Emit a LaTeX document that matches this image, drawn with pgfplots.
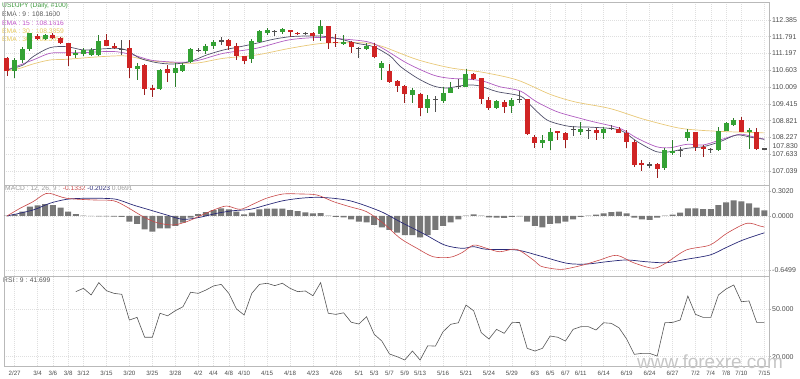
\documentclass[border=0pt]{standalone}
\usepackage{pgfplots}
\pgfplotsset{compat=1.18}
\usepackage{pgfplotstable}
\usepackage{fontspec}
\setmainfont{Liberation Sans}

\definecolor{cgreen}{HTML}{34A234}
\definecolor{gwick}{HTML}{2C7E2C}
\definecolor{cred}{HTML}{D02424}
\definecolor{rwick}{HTML}{9A1E1E}
\definecolor{dojic}{HTML}{505050}
\definecolor{ema9}{HTML}{50506A}
\definecolor{ema15}{HTML}{B05CC0}
\definecolor{ema30}{HTML}{E8C878}
\definecolor{macdred}{HTML}{C84848}
\definecolor{macdblue}{HTML}{2A2A78}
\definecolor{histgray}{HTML}{777777}
\definecolor{txtgreen}{HTML}{3F9A3F}
\definecolor{txtgray}{HTML}{555555}
\definecolor{txtpurple}{HTML}{C050C8}
\definecolor{txtyellow}{HTML}{E6C85A}

\pgfplotstableread{
k O H L C
0 111.024 111.081 110.399 110.575
1 110.586 111.035 110.338 110.964
2 110.964 111.435 110.848 111.343
3 111.343 111.930 111.293 111.908
4 111.813 111.873 111.672 111.707
5 111.707 111.884 111.682 111.848
6 111.848 111.909 111.707 111.732
7 111.732 111.767 111.530 111.555
8 111.555 111.576 110.752 111.106
9 111.141 111.318 111.035 111.222
10 111.166 111.378 111.106 111.318
11 111.141 111.389 111.106 111.318
12 111.141 111.848 111.106 111.647
13 111.672 111.873 111.449 111.470
14 111.459 111.555 111.353 111.399
15 111.353 111.672 111.141 111.343
16 111.378 111.672 110.317 110.692
17 110.646 110.858 110.257 110.763
18 110.787 110.823 109.727 109.928
19 109.964 110.080 109.666 109.928
20 109.928 110.646 109.903 110.611
21 110.635 110.787 110.197 110.494
22 110.494 110.848 109.999 110.671
23 110.586 110.858 110.558 110.787
24 110.904 111.389 110.876 111.343
25 111.318 111.399 111.237 111.307
26 111.293 111.520 111.177 111.459
27 111.459 111.672 111.343 111.611
28 111.636 111.788 111.495 111.640
29 111.672 111.707 111.318 111.470
30 111.470 111.555 110.964 111.116
31 111.106 111.106 110.812 110.940
32 110.989 111.696 110.869 111.647
33 111.611 112.025 111.601 111.990
34 111.908 112.085 111.848 112.036
35 111.990 112.025 111.813 111.985
36 111.944 112.096 111.873 112.060
37 112.025 112.025 111.767 111.944
38 111.930 111.944 111.859 111.884
39 111.908 111.965 111.848 111.905
40 111.908 111.965 111.636 111.824
41 111.873 112.379 111.636 112.167
42 112.177 112.177 111.343 111.576
43 111.611 111.873 111.413 111.555
44 111.520 111.848 111.495 111.611
45 111.611 111.647 111.201 111.413
46 111.378 111.435 111.024 111.375
47 111.343 111.555 111.318 111.470
48 111.459 111.555 111.024 111.060
49 110.671 110.940 110.257 110.869
50 110.586 110.823 110.140 110.197
51 110.222 110.257 109.843 110.055
52 110.045 110.080 109.454 109.751
53 109.727 109.985 109.454 109.903
54 109.751 109.787 108.984 109.277
55 109.277 109.727 109.101 109.575
56 109.575 109.691 109.136 109.570
57 109.514 110.020 109.433 109.808
58 109.808 110.197 109.787 109.985
59 110.045 110.282 109.928 110.040
60 110.020 110.646 110.020 110.469
61 110.459 110.494 110.257 110.282
62 110.317 110.317 109.408 109.575
63 109.550 109.645 109.196 109.256
64 109.256 109.550 109.232 109.514
65 109.490 109.550 109.101 109.313
66 109.348 109.610 109.101 109.550
67 109.575 109.879 109.433 109.570
68 109.575 109.575 108.313 108.337
69 108.252 108.312 107.842 108.040
70 108.019 108.312 107.842 108.136
71 108.111 108.549 107.782 108.429
72 108.454 108.464 108.136 108.372
73 108.394 108.429 107.842 108.136
74 108.514 108.631 108.277 108.510
75 108.418 108.783 108.312 108.514
76 108.489 108.549 108.170 108.485
77 108.489 108.549 108.136 108.372
78 108.372 108.606 108.170 108.514
79 108.549 108.666 108.489 108.540
80 108.514 108.595 108.383 108.394
81 108.394 108.489 107.853 108.075
82 108.075 108.136 107.191 107.251
83 107.311 107.428 107.039 107.297
84 107.251 107.357 107.134 107.255
85 107.276 107.322 106.781 107.110
86 107.134 107.842 107.074 107.781
87 107.665 108.136 107.605 107.746
88 107.781 107.898 107.524 107.771
89 108.195 108.524 108.099 108.429
90 108.429 108.429 107.746 107.877
91 107.877 107.959 107.534 107.806
92 107.806 107.842 107.675 107.817
93 107.781 108.595 107.746 108.464
94 108.454 108.772 108.454 108.726
95 108.666 108.914 108.648 108.843
96 108.843 108.949 108.418 108.429
97 108.454 108.549 107.817 108.479
98 108.429 108.549 107.782 107.806
99 107.828 107.842 107.806 107.830
}\candles

\pgfplotstableread{
k h
0 0.004
1 0.020
2 0.052
3 0.112
4 0.128
5 0.144
6 0.132
7 0.100
8 0.052
9 0.024
10 0.004
11 -0.003
12 -0.005
13 -0.005
14 -0.008
15 -0.010
16 -0.068
17 -0.096
18 -0.160
19 -0.188
20 -0.148
21 -0.148
22 -0.120
23 -0.080
24 -0.020
25 0.024
26 0.048
27 0.072
28 0.092
29 0.080
30 0.052
31 0.020
32 0.040
33 0.080
34 0.088
35 0.088
36 0.088
37 0.072
38 0.060
39 0.044
40 0.032
41 0.036
42 0.004
43 -0.012
44 -0.016
45 -0.040
46 -0.068
47 -0.076
48 -0.108
49 -0.136
50 -0.168
51 -0.200
52 -0.229
53 -0.229
54 -0.257
55 -0.229
56 -0.168
57 -0.120
58 -0.076
59 -0.040
60 0.004
61 0.020
62 0.004
63 -0.016
64 -0.020
65 -0.024
66 -0.012
67 -0.004
68 -0.068
69 -0.120
70 -0.136
71 -0.096
72 -0.088
73 -0.068
74 -0.040
75 -0.012
76 0.004
77 0.016
78 0.032
79 0.048
80 0.052
81 0.032
82 -0.020
83 -0.040
84 -0.048
85 -0.020
86 0.004
87 0.016
88 0.040
89 0.092
90 0.092
91 0.084
92 0.084
93 0.132
94 0.164
95 0.188
96 0.176
97 0.152
98 0.100
99 0.069
}\histdata

\pgfplotstableread{
k r
9 61.2
10 63.3
11 59.1
12 66.9
13 61.8
14 60.1
15 59.5
16 43.2
17 44.9
18 32.3
19 32.3
20 47.5
21 45.9
22 49.1
23 51.6
24 60.8
25 60.1
26 62.2
27 64.8
28 65.8
29 60.1
30 50.2
31 46.4
32 60.1
33 65.8
34 66.5
35 65.0
36 66.5
37 63.3
38 61.2
39 61.6
40 58.6
41 66.9
42 47.5
43 46.8
44 47.8
45 41.8
46 40.7
47 45.3
48 34.2
49 29.9
50 21.7
51 20.0
52 17.9
53 23.6
54 17.9
55 26.9
56 26.7
57 35.8
58 40.5
59 41.5
60 52.7
61 49.1
62 35.2
63 31.2
64 37.3
65 34.8
66 41.5
67 41.7
68 25.3
69 23.6
70 25.3
71 33.1
72 32.3
73 29.9
74 37.3
75 39.0
76 39.0
77 36.9
78 41.5
79 41.1
80 38.3
81 31.2
82 21.5
83 22.1
84 22.1
85 20.4
86 41.5
87 41.7
88 43.2
89 58.4
90 46.8
91 44.9
92 44.9
93 59.1
94 62.9
95 65.4
96 54.8
97 55.3
98 41.7
99 41.7
}\rsidata

\pgfplotsset{
  panel/.style={
    scale only axis, width=765pt, xmin=-0.39, xmax=99.61, anchor=south west,
    axis line style={draw=gray!55, line width=0.5pt},
    xtick={1,4,6,8,10,13,16,19,22,25,27,29,31,34,37,40,43,46,48,50,52,54,57,60,63,66,69,71,73,75,78,81,84,87,90,92,94,96,99},
    xticklabels={},
    xmajorgrids, ymajorgrids,
    major grid style={draw=gray!25, line width=0.4pt, dash pattern=on 1pt off 1pt},
    ytick pos=right, yticklabel pos=right,
    tick align=outside, major tick length=2pt,
    tick style={draw=gray!60, line width=0.4pt},
    xtick style={draw=none},
    ticklabel style={font=\fontsize{7}{8}\selectfont, text=black!70},
    yticklabel style={inner sep=1pt},
    /pgf/number format/assume math mode=true,
    clip=true,
  },
  candle/.style={mark=none, draw=none, forget plot,
    error bars/y dir=both, error bars/y explicit, error bars/error mark=none},
}

\begin{document}
\begin{tikzpicture}
\useasboundingbox (0,0) rectangle (800pt,378pt);
% legends (drawn first, under the candles)
\begin{scope}[every node/.style={anchor=west, inner sep=0pt, font=\fontsize{6.7}{8}\selectfont}]
\node[text=txtgreen] at (2pt,372pt) {USDJPY (Daily, \#100)};
\node[text=txtgray] at (2pt,363.5pt) {EMA : 9 : 108.1600};
\node[text=txtpurple] at (2pt,355pt) {EMA : 15 : 108.1616};
\node[text=txtyellow] at (2pt,346.5pt) {EMA : 30 : 108.3859};
\node[text=txtyellow] at (2pt,339pt) {EMA : 30 : 108.3859};
\node[text=gray!80] at (5pt,189pt) {MACD : 12, 26, 9 : \textcolor{macdred}{-0.1332} \textcolor{macdblue}{-0.2023} 0.0691};
\node[text=txtgray] at (3pt,97.5pt) {RSI : 9 : 41.699};
\end{scope}

% ---------------- main price panel ----------------
\begin{axis}[panel, at={(4pt,193pt)}, height=183pt,
  ymin=106.544, ymax=113.015,
  ytick={107.039,107.633,108.227,108.821,109.415,110.009,110.603,111.197,111.791,112.385},
  yticklabels={107.039,107.633,108.227,108.821,109.415,110.009,110.603,111.197,111.791,112.385},
]
% EMAs
\addplot[ema30, line width=0.7pt, smooth] coordinates {
(0,110.575) (1.7,110.671) (3.4,110.823) (5.6,110.964) (7.8,110.989) (12.2,111.081) (15.6,111.106) (18.7,110.940) (23.1,110.848) (25.2,110.869) (28.3,111.024) (32.6,111.141) (37,111.378) (41.3,111.555) (45.7,111.576) (47.1,111.555) (49.1,111.441) (53.6,110.980) (57.9,110.690) (62.2,110.529) (66.7,110.257) (71,109.750) (74.3,109.480) (78.8,109.250) (83.1,108.880) (87.6,108.570) (90.6,108.480) (94.1,108.430) (99,108.386)};
\addplot[ema15, line width=0.7pt, smooth] coordinates {
(0,110.611) (3.4,110.964) (5.6,111.201) (7.8,111.222) (10,111.222) (12.2,111.258) (14.3,111.258) (16.5,111.141) (18.7,110.964) (20.9,110.904) (23.1,110.883) (25.2,110.964) (28.3,111.201) (32.6,111.378) (36.8,111.672) (40.6,111.760) (43.1,111.725) (47.1,111.611) (49.1,111.378) (52.3,110.850) (55.7,110.434) (57.9,110.317) (60.1,110.290) (62.2,110.220) (64.4,110.020) (67.1,109.868) (69.2,109.490) (71.9,109.136) (74.9,108.903) (76.6,108.783) (80.1,108.549) (82.4,108.195) (84.9,107.898) (86.7,107.863) (88.9,107.983) (91,107.959) (93.2,108.136) (95.8,108.337) (97.5,108.252) (99,108.162)};
\addplot[ema9, line width=0.7pt, smooth] coordinates {
(0,110.611) (2.1,110.787) (3.4,111.081) (5.6,111.399) (7.8,111.435) (10,111.318) (12.2,111.353) (14.3,111.378) (15.6,111.318) (17.4,111.024) (19.6,110.869) (21.7,110.823) (23.9,110.904) (26.1,111.141) (28.3,111.318) (30.5,111.435) (32.6,111.555) (34.8,111.696) (37,111.788) (39.2,111.813) (41.3,111.806) (43.5,111.707) (45.7,111.555) (47.9,111.435) (50.1,111.100) (51.4,110.740) (53.6,110.330) (55.7,110.050) (57.5,109.975) (60.1,110.080) (61.8,110.045) (64.1,109.843) (67.1,109.690) (68.4,109.373) (70.6,108.843) (73.2,108.631) (74.9,108.596) (76.6,108.585) (80.1,108.489) (82.4,108.075) (84.9,107.722) (86.7,107.722) (88.9,107.842) (91,107.898) (93.2,108.075) (95.4,108.312) (97.5,108.217) (99,108.160)};
% green candles: wick + body
\addplot[candle, restrict expr to domain={\thisrow{C}-\thisrow{O}}{0.012:100},
  error bars/error bar style={line width=0.9pt, line cap=butt, draw=gwick, solid}]
  table[x=k, y expr={(\thisrow{H}+\thisrow{L})/2}, y error expr={(\thisrow{H}-\thisrow{L})/2}] {\candles};
\addplot[candle, restrict expr to domain={\thisrow{C}-\thisrow{O}}{0.012:100},
  error bars/error bar style={line width=5pt, line cap=butt, draw=cgreen, solid}]
  table[x=k, y expr={(\thisrow{O}+\thisrow{C})/2}, y error expr={(\thisrow{C}-\thisrow{O})/2}] {\candles};
% red candles
\addplot[candle, restrict expr to domain={\thisrow{C}-\thisrow{O}}{-100:-0.012},
  error bars/error bar style={line width=0.9pt, line cap=butt, draw=rwick, solid}]
  table[x=k, y expr={(\thisrow{H}+\thisrow{L})/2}, y error expr={(\thisrow{H}-\thisrow{L})/2}] {\candles};
\addplot[candle, restrict expr to domain={\thisrow{C}-\thisrow{O}}{-100:-0.012},
  error bars/error bar style={line width=5pt, line cap=butt, draw=cred, solid}]
  table[x=k, y expr={(\thisrow{O}+\thisrow{C})/2}, y error expr={(\thisrow{O}-\thisrow{C})/2}] {\candles};
% doji candles
\addplot[candle, restrict expr to domain={\thisrow{C}-\thisrow{O}}{-0.0119:0.0119},
  error bars/error bar style={line width=0.9pt, line cap=butt, draw=dojic, solid}]
  table[x=k, y expr={(\thisrow{H}+\thisrow{L})/2}, y error expr={(\thisrow{H}-\thisrow{L})/2}] {\candles};
\addplot[candle, restrict expr to domain={\thisrow{C}-\thisrow{O}}{-0.0119:0.0119},
  error bars/error bar style={line width=5pt, line cap=butt, draw=dojic, solid}]
  table[x=k, y expr={(\thisrow{O}+\thisrow{C})/2}, y error expr={0.018}] {\candles};
\end{axis}

% ---------------- MACD panel ----------------
\begin{axis}[panel, at={(4pt,102pt)}, height=91pt,
  ymin=-0.722, ymax=0.373,
  ytick={-0.6499,0,0.302}, yticklabels={-0.6499,0.0000,0.3020},
]
\addplot[ybar, bar width=6pt, fill=histgray, draw=none] table[x=k, y=h] {\histdata};
\addplot[macdblue, line width=0.7pt, smooth] coordinates {
(0,0) (3.4,0.072) (5.6,0.153) (7.8,0.201) (10,0.213) (12.2,0.213) (14.3,0.201) (16.5,0.132) (18.7,0.072) (20.9,0.012) (23,-0.04) (25.2,-0.016) (27.4,0.032) (29.6,0.064) (31.8,0.08) (33.9,0.132) (36.1,0.184) (38.3,0.213) (40.5,0.225) (42.7,0.213) (44.8,0.184) (47,0.12) (49.2,0.04) (51.4,-0.07) (54.6,-0.22) (57.2,-0.349) (59.5,-0.389) (61,-0.369) (62.7,-0.401) (66.6,-0.409) (69.7,-0.481) (73.2,-0.569) (75.8,-0.578) (78.4,-0.55) (81,-0.529) (83.5,-0.55) (86.2,-0.562) (88.8,-0.521) (91.9,-0.469) (94,-0.38) (96.2,-0.289) (99,-0.202)};
\addplot[macdred, line width=0.6pt, smooth] coordinates {
(0,0) (1.7,0.092) (3.4,0.172) (4.7,0.253) (5.6,0.273) (7.8,0.213) (11.3,0.193) (13.9,0.184) (15.6,0.112) (17.8,-0.008) (19.6,-0.08) (21.7,-0.108) (23.5,-0.068) (25.2,0) (27,0.072) (28.7,0.12) (30.5,0.08) (32.2,0.144) (33.9,0.213) (36.1,0.265) (38.3,0.265) (40.5,0.253) (42.7,0.172) (44.8,0.112) (47,0.052) (49.2,-0.088) (51.4,-0.268) (53.6,-0.389) (55.7,-0.49) (57.9,-0.497) (59.5,-0.44) (61,-0.35) (62.7,-0.389) (64.4,-0.43) (66.6,-0.401) (68.8,-0.529) (69.7,-0.60) (71,-0.629) (72.7,-0.641) (75.3,-0.59) (77.5,-0.529) (79.7,-0.473) (81.9,-0.562) (84.5,-0.629) (86.2,-0.562) (88.8,-0.409) (91.9,-0.349) (94.1,-0.208) (96.7,-0.088) (98.4,-0.12) (99,-0.133)};
\end{axis}

% ---------------- RSI panel ----------------
\begin{axis}[panel, at={(4pt,12pt)}, height=90pt,
  ymin=14.1, ymax=71.1,
  ytick={20,50}, yticklabels={20.000,50.000},
  xticklabels={2/27,3/4,3/6,3/8,3/12,3/15,3/20,3/25,3/28,4/2,4/4,4/8,4/10,4/15,4/18,4/23,4/26,5/1,5/3,5/7,5/9,5/13,5/16,5/21,5/24,5/29,6/3,6/5,6/7,6/11,6/14,6/19,6/24,6/27,7/2,7/4,7/8,7/10,7/15},
  xticklabel style={font=\fontsize{6.2}{7}\selectfont, inner sep=1pt, yshift=-1.5pt},
]
\addplot[txtgray, line width=0.6pt] table[x=k, y=r] {\rsidata};
\end{axis}

% current price tag and watermark
\node[anchor=west, inner sep=0.3pt, text=black!70, font=\fontsize{7}{8}\selectfont] at (772pt,231.5pt) {107.830};
\node[anchor=base, text=gray!45, font=\fontsize{19}{21}\selectfont] at (710pt,10pt) {www.forexre.com};
\end{tikzpicture}
\end{document}
